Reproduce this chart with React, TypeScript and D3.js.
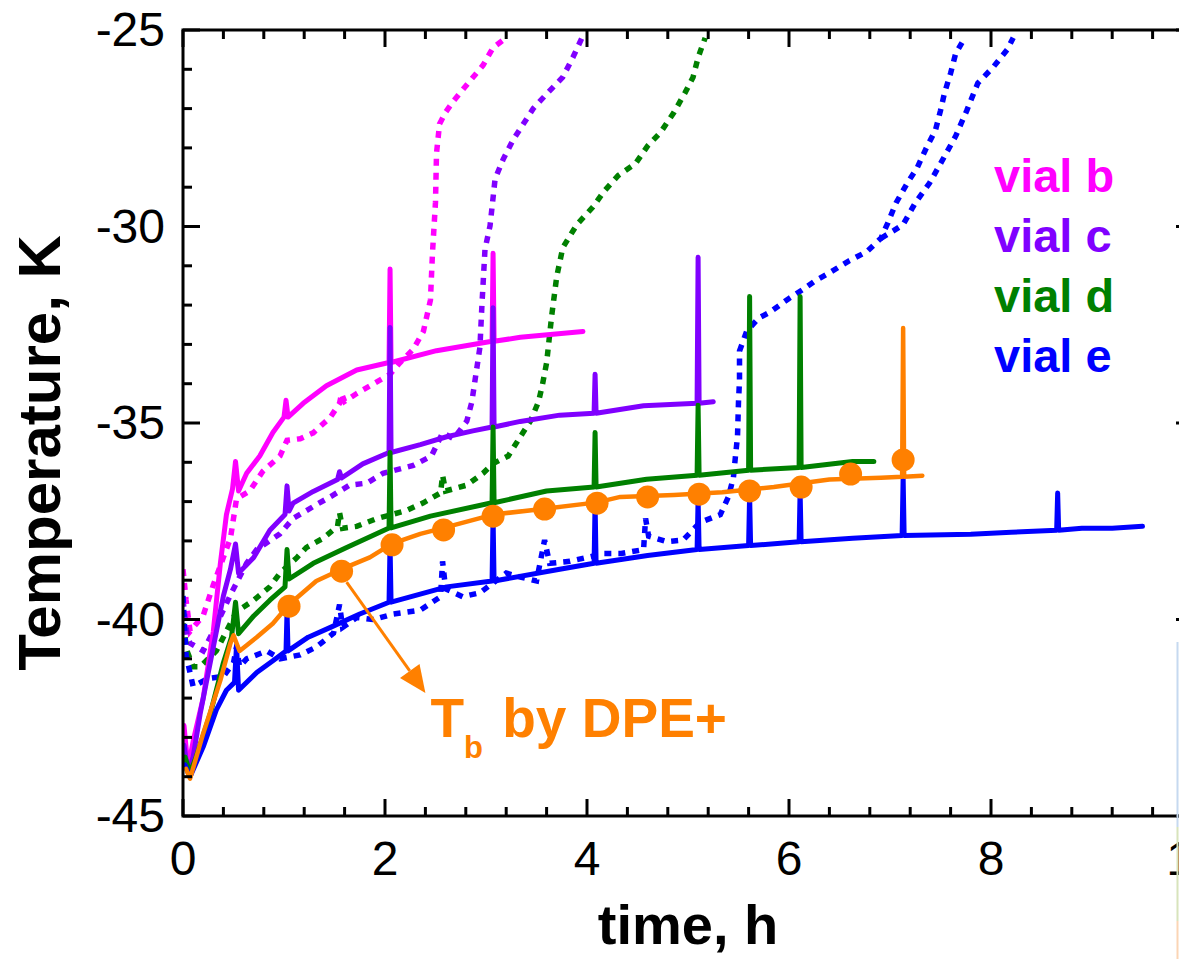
import React, { useEffect, useRef } from "react";
import * as d3 from "d3";

type Pt = [number, number];

// axis ticks
const xTicks = [0, 2, 4, 6, 8, 10];
const xTickLabels = ["0", "2", "4", "6", "8", "10"];
const yTicks = [-45, -40, -35, -30, -25];
const yTickLabels = ["-45", "-40", "-35", "-30", "-25"];

// solid traces (time h, temperature) incl. the spikes
const vialBSolid: Pt[] = [
  [0.01, -42.7], [0.05, -43.8], [0.1, -43.1], [0.2, -42.0], [0.3, -40.3], [0.37, -38.57],
  [0.43, -37.33], [0.49, -36.68], [0.52, -35.98], [0.55, -36.73], [0.63, -36.28], [0.76, -35.84],
  [0.89, -35.24], [1.0, -34.85], [1.02, -34.42], [1.04, -34.85], [1.19, -34.5], [1.42, -34.05],
  [1.72, -33.65], [2.04, -33.46], [2.05, -31.08], [2.06, -33.46], [2.51, -33.16], [3.06, -32.92],
  [3.07, -30.68], [3.08, -32.92], [3.34, -32.82], [3.96, -32.67],
];
const vialCSolid: Pt[] = [
  [0.01, -43.2], [0.05, -43.9], [0.1, -43.5], [0.17, -42.4], [0.3, -40.7], [0.4, -39.4],
  [0.47, -38.72], [0.52, -38.08], [0.55, -38.82], [0.7, -38.42], [0.86, -37.73], [1.01, -37.33],
  [1.03, -36.6], [1.05, -37.24], [1.09, -37.04], [1.29, -36.74], [1.53, -36.44], [1.55, -36.24],
  [1.57, -36.4], [1.78, -36.04], [2.04, -35.75], [2.05, -32.57], [2.06, -35.75], [2.35, -35.55],
  [2.61, -35.35], [2.87, -35.2], [3.06, -35.1], [3.07, -32.07], [3.08, -35.1], [3.34, -34.96],
  [3.73, -34.8], [4.07, -34.75], [4.08, -33.76], [4.09, -34.75], [4.56, -34.56], [5.09, -34.5],
  [5.1, -30.78], [5.11, -34.5], [5.25, -34.46],
];
const vialDSolid: Pt[] = [
  [0.02, -43.5], [0.07, -43.9], [0.13, -43.5], [0.27, -42.4], [0.4, -41.1], [0.48, -40.45],
  [0.52, -39.56], [0.55, -40.36], [0.7, -39.91], [0.86, -39.51], [1.01, -39.17], [1.03, -38.22],
  [1.05, -38.97], [1.29, -38.57], [1.62, -38.17], [2.04, -37.67], [2.05, -35.75], [2.06, -37.67],
  [2.45, -37.37], [3.06, -37.03], [3.07, -35.1], [3.08, -37.03], [3.6, -36.73], [4.07, -36.63],
  [4.08, -35.24], [4.09, -36.63], [4.59, -36.43], [5.09, -36.33], [5.1, -34.55], [5.11, -36.33],
  [5.6, -36.2], [5.61, -31.78], [5.62, -36.2], [6.1, -36.13], [6.11, -31.78], [6.12, -36.13],
  [6.63, -35.98], [6.84, -35.98],
];
const vialESolid: Pt[] = [
  [0.02, -43.7], [0.07, -44.0], [0.2, -43.24], [0.33, -42.3], [0.43, -41.8], [0.51, -41.6],
  [0.53, -40.65], [0.55, -41.8], [0.73, -41.35], [0.89, -41.05], [1.02, -40.8], [1.03, -39.8],
  [1.04, -40.8], [1.24, -40.45], [1.46, -40.2], [1.75, -39.86], [2.04, -39.56], [2.05, -38.07],
  [2.06, -39.56], [2.61, -39.17], [3.06, -39.02], [3.07, -37.37], [3.08, -39.02], [3.73, -38.72],
  [4.07, -38.57], [4.08, -37.03], [4.09, -38.57], [4.6, -38.37], [5.09, -38.22], [5.1, -36.92],
  [5.11, -38.22], [5.6, -38.12], [5.61, -36.83], [5.62, -38.12], [6.1, -38.02], [6.11, -36.73],
  [6.12, -38.02], [6.63, -37.93], [7.12, -37.86], [7.13, -36.38], [7.14, -37.86], [7.8, -37.83],
  [8.2, -37.78], [8.65, -37.73], [8.66, -36.78], [8.67, -37.73], [8.9, -37.68], [9.2, -37.68],
  [9.5, -37.63],
];

// dotted traces
const vialBDotted: Pt[] = [
  [0, -38.72], [0.03, -39.5], [0.07, -40.3], [0.2, -39.9], [0.3, -39.12], [0.4, -38.42],
  [0.47, -37.93], [0.53, -36.93], [0.66, -36.73], [0.79, -36.23], [0.96, -35.84], [1.03, -35.44],
  [1.16, -35.4], [1.29, -35.25], [1.46, -34.85], [1.55, -34.5], [1.57, -34.25], [1.6, -34.45],
  [1.72, -34.25], [1.89, -34.0], [2.05, -33.76], [2.15, -33.46], [2.28, -33.12], [2.38, -32.67],
  [2.45, -31.87], [2.47, -30.68], [2.5, -29.38], [2.51, -28.14], [2.54, -27.39], [2.6, -27.09],
  [2.68, -26.8], [2.84, -26.3], [2.97, -25.9], [3.07, -25.45], [3.2, -25.2],
];
const vialCDotted: Pt[] = [
  [0, -39.5], [0.04, -40.4], [0.07, -40.6], [0.2, -40.8], [0.3, -40.3], [0.48, -39.32],
  [0.63, -38.57], [0.73, -38.22], [0.96, -37.82], [1.09, -37.43], [1.32, -37.08], [1.49, -36.83],
  [1.65, -36.58], [1.82, -36.53], [1.98, -36.28], [2.28, -36.08], [2.46, -35.84], [2.57, -35.25],
  [2.68, -35.4], [2.81, -34.95], [2.86, -34.46], [2.9, -33.76], [2.94, -33.07], [2.96, -31.98],
  [2.99, -30.58], [3.04, -29.98], [3.09, -28.79], [3.17, -28.29], [3.27, -27.79], [3.47, -26.99],
  [3.61, -26.6], [3.76, -26.2], [3.86, -25.7], [3.95, -25.2],
];
const vialDDotted: Pt[] = [
  [0, -40.1], [0.04, -40.8], [0.1, -41.2], [0.17, -41.2], [0.33, -40.8], [0.45, -40.2],
  [0.53, -39.8], [0.7, -39.51], [0.86, -39.17], [0.96, -38.82], [1.13, -38.42], [1.22, -38.17],
  [1.39, -37.93], [1.53, -37.63], [1.55, -37.28], [1.58, -37.68], [1.72, -37.63], [1.92, -37.43],
  [2.21, -37.23], [2.38, -37.03], [2.55, -36.78], [2.57, -36.33], [2.6, -36.73], [2.81, -36.58],
  [2.97, -36.28], [3.07, -36.03], [3.22, -35.84], [3.34, -35.35], [3.44, -34.95], [3.52, -34.46],
  [3.56, -34.01], [3.6, -33.47], [3.65, -32.28], [3.7, -31.28], [3.76, -30.54], [3.9, -29.95],
  [4.06, -29.5], [4.17, -29.1], [4.31, -28.7], [4.48, -28.4], [4.6, -27.95], [4.73, -27.6],
  [4.86, -27.1], [4.97, -26.6], [5.05, -26.2], [5.1, -25.7], [5.17, -25.2],
];
const vialEDotted: Pt[] = [
  [0, -39.4], [0.03, -40.9], [0.1, -41.7], [0.25, -41.5], [0.4, -41.45], [0.5, -41.1],
  [0.53, -40.7], [0.56, -41.2], [0.63, -41.0], [0.83, -40.8], [0.96, -41.0], [1.16, -40.9],
  [1.32, -40.7], [1.49, -40.35], [1.55, -39.62], [1.58, -40.2], [1.72, -39.95], [1.89, -40.0],
  [2.08, -39.86], [2.35, -39.76], [2.55, -39.42], [2.57, -38.52], [2.6, -39.22], [2.77, -39.42],
  [2.94, -39.32], [3.2, -38.82], [3.34, -38.92], [3.5, -39.02], [3.58, -37.98], [3.63, -38.57],
  [3.83, -38.52], [4.17, -38.32], [4.34, -38.32], [4.56, -38.22], [4.58, -37.43], [4.61, -37.88],
  [4.79, -38.02], [4.95, -37.98], [5.12, -37.53], [5.32, -37.33], [5.4, -36.88], [5.45, -36.38],
  [5.47, -35.84], [5.49, -35.35], [5.5, -34.46], [5.51, -33.91], [5.51, -33.17], [5.58, -32.67],
  [5.7, -32.33], [5.81, -32.18], [6.0, -31.83], [6.15, -31.58], [6.26, -31.38], [6.4, -31.18],
  [6.59, -30.88], [6.77, -30.64], [6.91, -30.3], [6.98, -29.9], [7.06, -29.4], [7.17, -28.9],
  [7.27, -28.5], [7.36, -28.0], [7.45, -27.55], [7.5, -27.05], [7.54, -26.6], [7.6, -26.1],
  [7.65, -25.6], [7.74, -25.2],
];
const vialEDottedBranch: Pt[] = [
  [6.91, -30.3], [7.04, -30.1], [7.13, -29.95], [7.25, -29.4], [7.39, -28.9], [7.5, -28.4],
  [7.65, -27.7], [7.76, -27.05], [7.87, -26.35], [8.02, -25.95], [8.16, -25.5], [8.22, -25.2],
];

// Tb trace and DPE+ points
const tbLine: Pt[] = [
  [0.03, -43.8], [0.07, -44.05], [0.2, -42.9], [0.37, -41.55], [0.47, -40.6], [0.5, -40.4],
  [0.56, -40.8], [0.73, -40.45], [0.89, -40.1], [1.05, -39.62], [1.32, -39.02], [1.57, -38.72],
  [1.85, -38.42], [2.07, -38.07], [2.35, -37.82], [2.58, -37.67], [3.07, -37.33], [3.58, -37.18],
  [4.1, -37.02], [4.33, -36.88], [4.86, -36.83], [5.34, -36.76], [5.85, -36.63], [6.4, -36.44],
  [6.91, -36.39], [7.12, -36.37], [7.13, -32.58], [7.14, -36.37], [7.32, -36.34],
];
const dpeTime = [1.05, 1.57, 2.07, 2.58, 3.07, 3.58, 4.1, 4.6, 5.11, 5.61, 6.12, 6.61, 7.13];
const dpeTemp = [-39.66, -38.77, -38.1, -37.72, -37.37, -37.19, -37.04, -36.88, -36.81, -36.73, -36.63, -36.3, -35.94];

const legendLabels = ["vial b", "vial c", "vial d", "vial e"];
const vialColors = ["#ff00ff", "#8000ff", "#008000", "#0000ff"];
const orange = "#ff8000";

const W = 1179;
const H = 959;

const App = () => {
  const svgRef = useRef<SVGSVGElement>(null);

  useEffect(() => {
    if (!svgRef.current) return;
    const svg = d3.select(svgRef.current);
    svg.selectAll("*").remove();

    const font = '"Liberation Sans", Arial, Helvetica, sans-serif';
    const x = d3.scaleLinear().domain([0, 10]).range([183, 1193]);
    const y = d3.scaleLinear().domain([-45, -25]).range([816, 30]);
    const [x0, x1] = x.range();
    const [y0, y1] = y.range();

    svg.append("rect").attr("width", W).attr("height", H).attr("fill", "#fff");

    svg.append("defs").append("clipPath").attr("id", "plot-clip")
      .append("rect")
      .attr("x", x0).attr("y", y1)
      .attr("width", x1 - x0).attr("height", y0 - y1);

    const line = d3.line<Pt>().x((d) => x(d[0])).y((d) => y(d[1]));
    const g = svg.append("g").attr("clip-path", "url(#plot-clip)");

    // dotted traces
    const dotted: [Pt[], string][] = [
      [vialBDotted, vialColors[0]],
      [vialCDotted, vialColors[1]],
      [vialDDotted, vialColors[2]],
      [vialEDotted, vialColors[3]],
      [vialEDottedBranch, vialColors[3]],
    ];
    dotted.forEach(([data, color]) => {
      g.append("path")
        .attr("d", line(data))
        .attr("fill", "none")
        .attr("stroke", color)
        .attr("stroke-width", 5.5)
        .attr("stroke-dasharray", "7 7");
    });

    // solid traces
    const solids = [vialBSolid, vialCSolid, vialDSolid, vialESolid];
    solids.forEach((data, i) => {
      g.append("path")
        .attr("d", line(data))
        .attr("fill", "none")
        .attr("stroke", vialColors[i])
        .attr("stroke-width", 5)
        .attr("stroke-linejoin", "round")
        .attr("stroke-linecap", "round");
    });

    // Tb by DPE+
    g.append("path")
      .attr("d", line(tbLine))
      .attr("fill", "none")
      .attr("stroke", orange)
      .attr("stroke-width", 4.5)
      .attr("stroke-linejoin", "round")
      .attr("stroke-linecap", "round");

    g.selectAll("circle.dpe")
      .data(dpeTime)
      .enter()
      .append("circle")
      .attr("class", "dpe")
      .attr("cx", (d) => x(d))
      .attr("cy", (_, i) => y(dpeTemp[i]))
      .attr("r", 11.5)
      .attr("fill", orange);

    // arrow from a DPE+ point to the label
    const ax1 = x(1.62), ay1 = y(-39.05);
    const ax2 = x(2.4), ay2 = y(-41.87);
    const len = Math.hypot(ax2 - ax1, ay2 - ay1);
    const ux = (ax2 - ax1) / len, uy = (ay2 - ay1) / len;
    const head = 27, half = 12;
    const bx = ax2 - ux * head, by = ay2 - uy * head;
    svg.append("line")
      .attr("x1", ax1).attr("y1", ay1)
      .attr("x2", bx).attr("y2", by)
      .attr("stroke", orange)
      .attr("stroke-width", 3);
    svg.append("path")
      .attr("d", `M${ax2},${ay2} L${bx - uy * half},${by + ux * half} L${bx + uy * half},${by - ux * half} Z`)
      .attr("fill", orange);

    const label = svg.append("text")
      .attr("x", x(2.45)).attr("y", y(-43.0))
      .attr("font-family", font)
      .attr("font-weight", "bold")
      .attr("font-size", 55)
      .attr("fill", orange);
    label.append("tspan").text("T");
    label.append("tspan").attr("font-size", 31).attr("dy", 21).text("b");
    label.append("tspan").attr("dy", -21).attr("dx", 4).text(" by DPE+");

    // frame
    svg.append("rect")
      .attr("x", x0).attr("y", y1)
      .attr("width", x1 - x0).attr("height", y0 - y1)
      .attr("fill", "none")
      .attr("stroke", "#000")
      .attr("stroke-width", 3);

    const tickG = svg.append("g").attr("stroke", "#000").attr("stroke-width", 3);
    const xMinor = d3.range(0, 10.001, 0.4);
    const yMinor = d3.range(-45, -24.999, 1);
    xMinor.forEach((t) => {
      const major = xTicks.some((m) => Math.abs(m - t) < 1e-6);
      const L = major ? 17 : 9;
      tickG.append("line").attr("x1", x(t)).attr("x2", x(t)).attr("y1", y0).attr("y2", y0 - L);
      tickG.append("line").attr("x1", x(t)).attr("x2", x(t)).attr("y1", y1).attr("y2", y1 + L);
    });
    yMinor.forEach((v) => {
      const major = yTicks.some((m) => Math.abs(m - v) < 1e-6);
      const L = major ? 17 : 9;
      tickG.append("line").attr("y1", y(v)).attr("y2", y(v)).attr("x1", x0).attr("x2", x0 + L);
      tickG.append("line").attr("y1", y(v)).attr("y2", y(v)).attr("x1", x1).attr("x2", x1 - L);
    });

    // tick labels
    svg.selectAll("text.xt")
      .data(xTicks)
      .enter()
      .append("text")
      .attr("class", "xt")
      .attr("x", (d) => x(d))
      .attr("y", y0 + 59)
      .attr("text-anchor", "middle")
      .attr("font-family", font)
      .attr("font-size", 48)
      .text((_, i) => xTickLabels[i]);

    svg.selectAll("text.yt")
      .data(yTicks)
      .enter()
      .append("text")
      .attr("class", "yt")
      .attr("x", x0 - 18)
      .attr("y", (d) => y(d) + 16)
      .attr("text-anchor", "end")
      .attr("font-family", font)
      .attr("font-size", 48)
      .text((_, i) => yTickLabels[i]);

    // axis titles
    svg.append("text")
      .attr("x", 688).attr("y", 944)
      .attr("text-anchor", "middle")
      .attr("font-family", font)
      .attr("font-weight", "bold")
      .attr("font-size", 56)
      .text("time, h");

    svg.append("text")
      .attr("transform", `translate(60, ${(y0 + y1) / 2 + 30}) rotate(-90)`)
      .attr("text-anchor", "middle")
      .attr("font-family", font)
      .attr("font-weight", "bold")
      .attr("font-size", 60)
      .text("Temperature, K");

    // legend
    legendLabels.forEach((lab, i) => {
      svg.append("text")
        .attr("x", 994)
        .attr("y", 192 + i * 60)
        .attr("font-family", font)
        .attr("font-weight", "bold")
        .attr("font-size", 47)
        .attr("fill", vialColors[i])
        .text(lab);
    });

    // faint edge of the neighbouring figure
    const edge: [number, number, string][] = [
      [642, 827, "#c6d9f0"],
      [827, 921, "#d8e4bc"],
      [921, 959, "#fbd5b5"],
    ];
    edge.forEach(([a, b, c]) => {
      svg.append("rect").attr("x", 1176.5).attr("y", a).attr("width", 2).attr("height", b - a).attr("fill", c);
    });
  }, []);

  return (
    <svg
      ref={svgRef}
      width={W}
      height={H}
      style={{ position: "absolute", left: 0, top: 0, display: "block" }}
    />
  );
};

export default App;
